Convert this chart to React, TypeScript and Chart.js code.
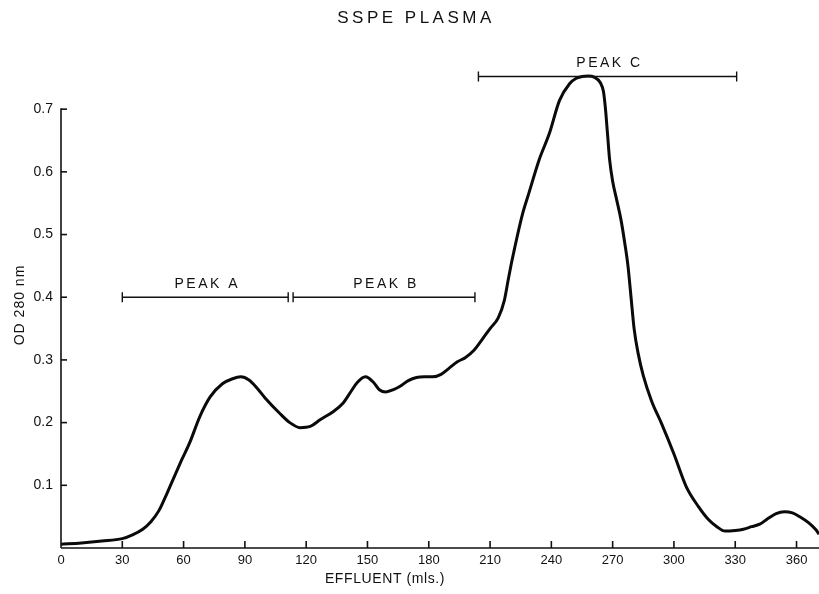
import React, { useEffect, useRef } from 'react';
import { Chart, registerables } from 'chart.js';

Chart.register(...registerables);

const effluentMl = [
  0, 10, 20, 30, 35, 40, 44, 48, 52, 56, 59, 63, 68, 73, 79, 84, 88, 92, 96, 100,
  107, 112, 117, 122, 127, 133, 138, 142, 145, 149, 153, 156, 159, 163, 166, 170,
  174, 178, 182, 186, 190, 194, 198, 202, 206, 210, 214, 217, 219, 220.5, 222, 226, 229,
  234, 239, 244, 249, 252, 255, 258, 261, 264, 265.5, 266.5, 267.5, 268.5, 270, 272,
  274, 276, 277.5, 279, 280.5, 282.5, 285, 289, 294, 300, 306, 312, 317, 321, 325,
  330, 334, 338, 342, 346, 350, 354, 358, 362, 366, 369.5, 371,
];
const od280 = [
  0.006, 0.008, 0.011, 0.015, 0.021, 0.03, 0.042, 0.06, 0.088, 0.118, 0.14, 0.168,
  0.21, 0.241, 0.262, 0.27, 0.273, 0.268, 0.255, 0.239, 0.215, 0.2, 0.192, 0.194,
  0.205, 0.217, 0.231, 0.25, 0.264, 0.273, 0.264, 0.252, 0.249, 0.253, 0.258, 0.267,
  0.272, 0.273, 0.273, 0.277, 0.287, 0.297, 0.304, 0.315, 0.332, 0.35, 0.367, 0.395,
  0.43, 0.455, 0.478, 0.534, 0.566, 0.619, 0.661, 0.714, 0.741, 0.749, 0.752, 0.753,
  0.751, 0.742, 0.728, 0.7, 0.66, 0.62, 0.585, 0.555, 0.525, 0.485, 0.45, 0.4, 0.35,
  0.31, 0.275, 0.235, 0.198, 0.15, 0.098, 0.066, 0.045, 0.034, 0.027, 0.028, 0.03,
  0.034, 0.038, 0.047, 0.055, 0.058, 0.056, 0.049, 0.04, 0.029, 0.022,
];
const xTickValues = [0, 30, 60, 90, 120, 150, 180, 210, 240, 270, 300, 330, 360];
const yTickValues = [0.1, 0.2, 0.3, 0.4, 0.5, 0.6, 0.7];
const peakLabels = ['PEAK A', 'PEAK B', 'PEAK C'];
const peakStarts = [30, 113.6, 204.3];
const peakEnds = [111.2, 202.6, 330.7];
const peakLevels = [0.4, 0.4, 0.752];
const chartTitle = 'SSPE PLASMA';
const xTitle = 'EFFLUENT (mls.)';
const yTitle = 'OD 280 nm';

const FONT = '"Liberation Sans", Arial, sans-serif';

const decorPlugin = {
  id: 'decor',
  afterDraw(chart: any) {
    const ctx = chart.ctx as CanvasRenderingContext2D;
    const xs = chart.scales.x;
    const ys = chart.scales.y;
    const x0 = xs.getPixelForValue(0);
    const y0 = ys.getPixelForValue(0);
    ctx.save();
    ctx.strokeStyle = '#111';
    ctx.fillStyle = '#111';
    ctx.lineWidth = 1.6;
    ctx.lineCap = 'butt';
    // x axis
    ctx.beginPath();
    ctx.moveTo(x0, y0);
    ctx.lineTo(chart.width, y0);
    ctx.stroke();
    // y axis up to 0.7
    const yTop = ys.getPixelForValue(yTickValues[yTickValues.length - 1]);
    ctx.beginPath();
    ctx.moveTo(x0, y0);
    ctx.lineTo(x0, yTop - 0.8);
    ctx.stroke();
    // x ticks (inward)
    xTickValues.forEach((v) => {
      if (v === 0) return;
      const px = xs.getPixelForValue(v);
      ctx.beginPath();
      ctx.moveTo(px, y0);
      ctx.lineTo(px, y0 - 7);
      ctx.stroke();
    });
    // y ticks (inward)
    yTickValues.forEach((v) => {
      const py = ys.getPixelForValue(v);
      ctx.beginPath();
      ctx.moveTo(x0, py);
      ctx.lineTo(x0 + 6, py);
      ctx.stroke();
    });
    // peak bars
    ctx.lineWidth = 1.4;
    peakLabels.forEach((label, i) => {
      const a = xs.getPixelForValue(peakStarts[i]);
      const b = xs.getPixelForValue(peakEnds[i]);
      const py = ys.getPixelForValue(peakLevels[i]);
      ctx.beginPath();
      ctx.moveTo(a, py);
      ctx.lineTo(b, py);
      ctx.moveTo(a, py - 5);
      ctx.lineTo(a, py + 5);
      ctx.moveTo(b, py - 5);
      ctx.lineTo(b, py + 5);
      ctx.stroke();
      ctx.font = `14px ${FONT}`;
      (ctx as any).letterSpacing = '2.5px';
      ctx.textAlign = 'center';
      ctx.textBaseline = 'middle';
      ctx.fillText(label, (a + b) / 2 + 2, py - 13);
    });
    // title
    ctx.font = `17px ${FONT}`;
    (ctx as any).letterSpacing = '3.5px';
    ctx.textAlign = 'center';
    ctx.textBaseline = 'middle';
    ctx.fillText(chartTitle, 416, 18);
    // x title
    ctx.font = `14px ${FONT}`;
    (ctx as any).letterSpacing = '0.6px';
    ctx.fillText(xTitle, 385, 579);
    // y title
    ctx.save();
    ctx.translate(20, 305);
    ctx.rotate(-Math.PI / 2);
    (ctx as any).letterSpacing = '1px';
    ctx.fillText(yTitle, 0, 0);
    ctx.restore();
    ctx.restore();
  },
};

export default function App() {
  const canvasRef = useRef<HTMLCanvasElement | null>(null);

  useEffect(() => {
    if (!canvasRef.current) return;
    const chart = new Chart(canvasRef.current, {
      type: 'line',
      data: {
        datasets: [
          {
            data: effluentMl.map((x, i) => ({ x, y: od280[i] })),
            borderColor: '#0a0a0a',
            borderWidth: 3,
            pointRadius: 0,
            fill: false,
            cubicInterpolationMode: 'monotone',
            clip: false as any,
          },
        ],
      },
      options: {
        animation: false,
        responsive: false,
        layout: { padding: { top: 59, left: 0, right: 0, bottom: 0 } },
        plugins: {
          legend: { display: false },
          tooltip: { enabled: false },
          title: { display: false },
        },
        scales: {
          x: {
            type: 'linear',
            min: 0,
            max: 371,
            grid: { display: false, drawTicks: false },
            border: { display: false },
            afterBuildTicks: (scale: any) => {
              scale.ticks = xTickValues.map((v) => ({ value: v }));
            },
            afterFit: (scale: any) => {
              scale.height = 46;
            },
            ticks: {
              autoSkip: false,
              maxRotation: 0,
              padding: 5,
              color: '#111',
              font: { family: FONT, size: 13 },
              callback: (v: any) => String(v),
            },
          },
          y: {
            type: 'linear',
            min: 0,
            max: 0.78,
            grid: { display: false, drawTicks: false },
            border: { display: false },
            afterBuildTicks: (scale: any) => {
              scale.ticks = yTickValues.map((v) => ({ value: v }));
            },
            afterFit: (scale: any) => {
              scale.width = 61;
            },
            ticks: {
              padding: 8,
              color: '#111',
              font: { family: FONT, size: 14 },
              callback: (v: any) => Number(v).toFixed(1),
            },
          },
        },
      },
      plugins: [decorPlugin],
    });
    return () => chart.destroy();
  }, []);

  return (
    <div style={{ position: 'fixed', left: 0, top: 0, width: 819, height: 594, background: '#fff' }}>
      <canvas ref={canvasRef} width={819} height={594} style={{ display: 'block' }} />
    </div>
  );
}
